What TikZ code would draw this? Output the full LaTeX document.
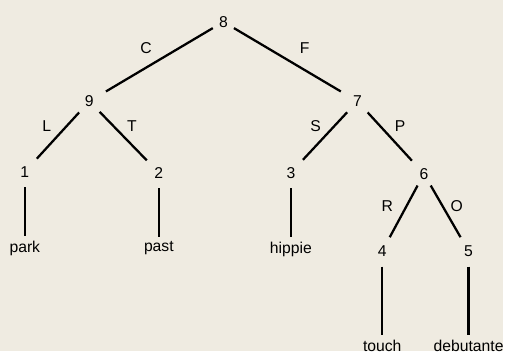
\documentclass[tikz,border=0pt]{standalone}
\usepackage{fontspec}
\setmainfont{Liberation Sans}
\definecolor{paper}{RGB}{239,235,225}

\tikzset{
  num/.style={inner sep=2.5pt,font=\fontsize{9}{10}\selectfont},
  word/.style={inner sep=2pt,font=\fontsize{9}{10}\selectfont},
  lbl/.style={inner sep=1pt,font=\fontsize{9}{10}\selectfont},
  branch/.style={line width=1.3pt,shorten <=1pt,shorten >=2.5pt},
  stem/.style={line width=1.3pt,shorten <=3pt,shorten >=0.5pt}
}

\begin{document}
\begin{tikzpicture}[x=0.02cm,y=-0.02cm]
\fill[paper] (0,0) rectangle (507,354);
% tree nodes
\node[num] (n8) at (225,22) {8};
\node[num] (n9) at (90,102) {9};
\node[num] (n7) at (360,102) {7};
\node[num] (n1) at (25,173) {1};
\node[num] (n2) at (160,174) {2};
\node[num] (n3) at (293,174) {3};
\node[num] (n6) at (427,175) {6};
\node[num] (n4) at (385,253) {4};
\node[num] (n5) at (472,253) {5};
% leaves
\node[word] (park) at (25,250) {park};
\node[word] (past) at (160,250) {past};
\node[word] (hippie) at (293,251) {hippie};
\node[word] (touch) at (385,348) {touch};
\node[word] (debutante) at (472,348) {debutante};
% branches
\draw[branch,shorten >=5pt] (n8) -- (n9);
\draw[branch,shorten >=5pt] (n8) -- (n7);
\draw[branch] (n9) -- (n1);
\draw[branch] (n9) -- (n2);
\draw[branch] (n7) -- (n3);
\draw[branch] (n7) -- (n6);
\draw[branch] (n6) -- (n4);
\draw[branch] (n6) -- (n5);
\draw[stem] (n1) -- (park);
\draw[stem] (n2) -- (past);
\draw[stem] (n3) -- (hippie);
\draw[stem] (n4) -- (touch);
\draw[stem] (n5) -- (debutante);
% branch letters
\node[lbl] (lC) at (147,48) {C};
\node[lbl] (lF) at (307,48) {F};
\node[lbl] (lL) at (47,127) {L};
\node[lbl] (lT) at (133,127) {T};
\node[lbl] (lS) at (318,127) {S};
\node[lbl] (lP) at (403,127) {P};
\node[lbl] (lR) at (390,208) {R};
\node[lbl] (lO) at (460,208) {O};
\end{tikzpicture}
\end{document}
